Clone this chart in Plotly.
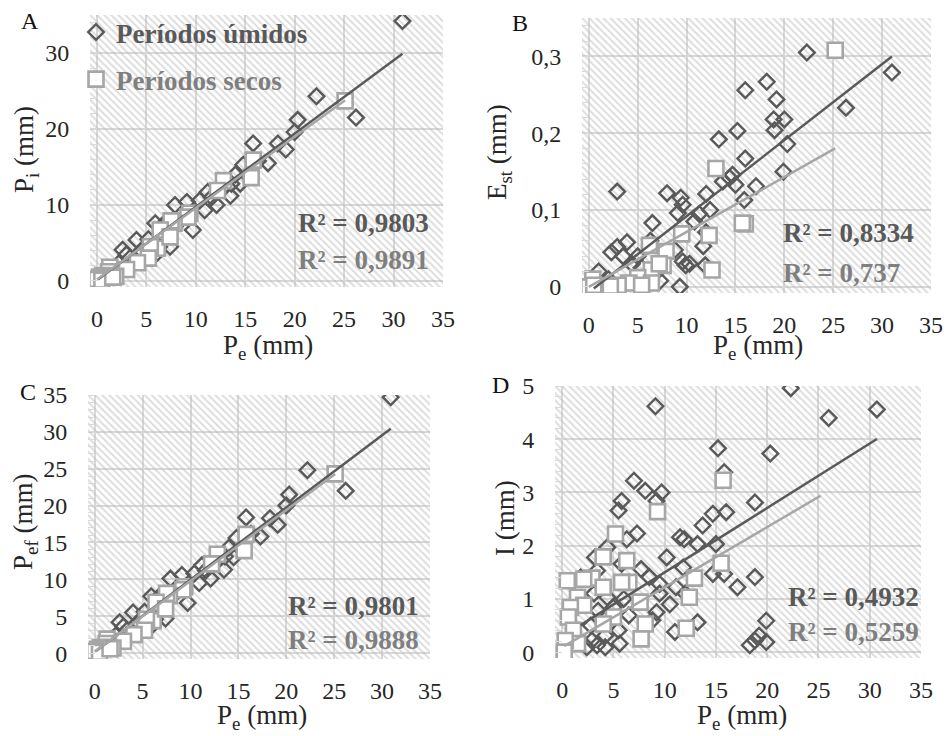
import plotly.graph_objects as go

# ---------------- data ----------------
# Panel A: Pi vs Pe
a_umid_x = [30.9, 26.2, 22.2, 20.3, 20.0, 19.1, 18.3, 17.3, 15.8, 16.3, 14.8, 14.5, 14.0, 13.5, 12.1, 11.2,
            10.9, 10.4, 9.7, 9.1, 7.9, 7.4, 7.0, 6.6, 5.9, 6.1, 5.2, 4.0, 2.6, 3.0, 2.2, 1.2, 0.4, 0.1,
            12.8, 11.6, 8.5, 13.6, 6.3, 4.5]
a_umid_y = [34.2, 21.5, 24.3, 21.2, 19.6, 17.3, 18.1, 15.5, 18.1, 15.8, 15.3, 12.8, 14.0, 11.2, 10.0, 11.7,
            9.3, 10.6, 6.7, 10.4, 10.0, 4.5, 7.6, 7.3, 7.6, 3.7, 5.5, 5.4, 4.1, 3.5, 2.3, 1.0, 0.0, 0.0,
            12.2, 11.0, 8.0, 12.8, 4.5, 4.0]
a_seco_x = [25.1, 15.8, 15.6, 12.8, 12.2, 9.4, 9.2, 7.8, 7.5, 6.4, 6.1, 5.4, 5.2, 4.1, 3.0, 1.9, 1.3, 1.2,
            0.6, 0.3, 0.0, 0.5, 7.4, 1.6]
a_seco_y = [23.7, 15.9, 13.6, 13.2, 11.9, 8.9, 8.4, 7.6, 7.9, 6.7, 4.3, 4.5, 3.0, 2.4, 1.5, 0.6, 1.8, 1.2,
            0.7, 0.5, 0.2, 0.1, 5.8, 0.5]

# Panel B: Est vs Pe
b_umid_x = [22.3, 31.0, 26.3, 18.2, 16.0, 19.2, 18.9, 20.0, 19.0, 15.2, 13.3, 20.3, 16.0, 19.9, 17.1, 14.7,
            14.4, 15.0, 13.7, 15.9, 2.9, 8.0, 9.4, 12.0, 9.1, 12.4, 11.3, 9.6, 6.5, 12.0, 11.7, 3.9, 2.9,
            2.3, 3.5, 9.9, 10.3, 9.6, 11.9, 9.3, 1.0, 5.4, 7.3, 5.0, 8.8, 10.8, 4.4, 6.3, 2.0, 0.5, 7.0]
b_umid_y = [0.305, 0.279, 0.233, 0.267, 0.256, 0.244, 0.218, 0.218, 0.204, 0.203, 0.192, 0.186, 0.167, 0.150,
            0.131, 0.146, 0.142, 0.133, 0.137, 0.113, 0.124, 0.122, 0.116, 0.121, 0.096, 0.100, 0.095, 0.107,
            0.083, 0.071, 0.053, 0.058, 0.052, 0.045, 0.040, 0.028, 0.030, 0.033, 0.028, 0.000, 0.020, 0.025,
            0.008, 0.040, 0.048, 0.085, 0.030, 0.060, 0.010, 0.005, 0.020]
b_seco_x = [25.2, 13.0, 16.0, 15.7, 9.5, 12.3, 12.6, 6.2, 7.9, 7.6, 6.4, 5.0, 4.1, 3.0, 1.6, 0.4, 0.0, 0.5,
            6.4, 5.4, 7.2, 2.2]
b_seco_y = [0.308, 0.154, 0.082, 0.083, 0.069, 0.067, 0.022, 0.054, 0.046, 0.028, 0.022, 0.012, 0.005, 0.002,
            0.000, 0.010, 0.000, 0.002, 0.005, 0.002, 0.030, 0.001]

# Panel C: Pef vs Pe (same events as panel A)
c_umid_x = a_umid_x
c_umid_y = [34.7, 22.0, 24.8, 21.5, 20.0, 17.4, 18.3, 15.8, 18.4, 16.2, 15.6, 13.0, 14.3, 11.3, 10.1, 11.9,
            9.5, 10.8, 6.8, 10.6, 10.1, 4.7, 7.8, 7.5, 7.7, 3.9, 5.6, 5.5, 4.2, 3.6, 2.4, 1.1, 0.1, 0.0,
            12.5, 11.2, 8.2, 13.1, 4.6, 4.2]
c_seco_x = a_seco_x
c_seco_y = [24.3, 16.1, 13.9, 13.4, 12.1, 9.0, 8.6, 7.8, 8.1, 6.9, 4.4, 4.6, 3.1, 2.5, 1.6, 0.7, 1.9, 1.3,
            0.8, 0.5, 0.2, 0.1, 6.0, 0.6]

# Panel D: I vs Pe (the dry event at Pe 25.2 lies above the 5 mm axis limit)
d_umid_x = [22.3, 30.7, 26.0, 9.1, 15.2, 20.3, 15.8, 7.0, 8.1, 9.7, 5.8, 5.5, 9.2, 18.8, 14.7, 16.0, 13.7,
            7.3, 11.5, 11.9, 13.2, 15.0, 6.3, 10.2, 4.4, 3.2, 5.8, 7.7, 11.8, 14.7, 15.8, 18.8, 8.5, 9.5,
            11.1, 17.1, 10.5, 9.5, 4.4, 3.1, 9.2, 6.5, 3.5, 5.0, 13.2, 19.9, 11.0, 19.2, 18.8, 19.9, 18.3,
            5.5, 5.6, 4.2, 4.2, 2.9, 3.4, 2.4, 3.4, 1.8, 8.8, 12.0, 6.0, 2.8]
d_umid_y = [4.96, 4.56, 4.40, 4.62, 3.83, 3.73, 3.38, 3.22, 3.03, 3.00, 2.84, 2.66, 2.84, 2.81, 2.60, 2.63,
            2.38, 2.23, 2.16, 2.12, 2.03, 2.03, 2.12, 1.78, 1.97, 1.78, 1.66, 1.56, 1.59, 1.47, 1.47, 1.41,
            1.41, 1.28, 1.22, 1.22, 0.90, 1.10, 1.03, 1.10, 0.75, 0.69, 0.78, 0.84, 0.56, 0.59, 0.38, 0.31,
            0.22, 0.19, 0.13, 0.41, 0.16, 0.31, 0.09, 0.22, 0.13, 0.09, 1.53, 1.40, 0.60, 1.10, 1.00, 0.50]
d_seco_x = [25.2, 15.7, 9.3, 5.2, 4.0, 6.3, 15.5, 0.5, 2.9, 2.1, 6.5, 5.8, 12.9, 4.0, 1.5, 12.4, 7.6, 2.1,
            0.8, 0.6, 5.0, 8.1, 12.1, 7.7, 1.1, 1.5, 0.3, 0.2, 4.0]
d_seco_y = [5.40, 3.23, 2.64, 2.22, 1.79, 1.72, 1.67, 1.34, 1.39, 1.37, 1.31, 1.31, 1.39, 1.22, 1.03, 1.03,
            0.94, 0.88, 0.84, 0.66, 0.66, 0.53, 0.45, 0.25, 0.41, 0.16, 0.22, 0.00, 0.53]

# linear trend lines (slope, intercept) and R² labels
trend_umid = {"A": (0.964, 0.10), "B": (0.0099, -0.007), "C": (0.980, 0.15), "D": (0.121, 0.29)}
trend_seco = {"A": (0.940, 0.20), "B": (0.00715, 0.0), "C": (0.960, 0.20), "D": (0.113, 0.09)}
r2_umid = {"A": "R² = 0,9803", "B": "R² = 0,8334", "C": "R² = 0,9801", "D": "R² = 0,4932"}
r2_seco = {"A": "R² = 0,9891", "B": "R² = 0,737", "C": "R² = 0,9888", "D": "R² = 0,5259"}

x_ticks = [0, 5, 10, 15, 20, 25, 30, 35]
y_ticks = {"A": [0, 10, 20, 30, 35], "B": [0, 0.1, 0.2, 0.3, 0.35],
           "C": [0, 5, 10, 15, 20, 25, 30, 35], "D": [0, 1, 2, 3, 4, 5]}
y_ticktext = {"A": ["0", "10", "20", "30", ""], "B": ["0", "0,1", "0,2", "0,3", ""],
              "C": ["0", "5", "10", "15", "20", "25", "30", "35"], "D": ["0", "1", "2", "3", "4", "5"]}
y_titles = {"A": "P<sub>i</sub> (mm)", "B": "E<sub>st</sub> (mm)", "C": "P<sub>ef</sub> (mm)", "D": "I (mm)"}
x_title = "P<sub>e</sub> (mm)"
legend_names = ["Períodos úmidos", "Períodos secos"]

# ---------------- styling ----------------
FONT = "Liberation Serif"
C_UMID = "#595959"
C_SECO = "#a6a6a6"
C_SECO_TXT = "#7f7f7f"
GRID = "#d9d9d9"
TXT = "#262626"
W, H = 948, 736


def px(v):
    return v / W


def py(v):
    return 1 - v / H


panels = {
    "A": dict(data=(a_umid_x, a_umid_y, a_seco_x, a_seco_y), xr=[-0.7, 35], yr=[-0.8, 35], minor=2,
              box=(90, 443, 15, 287)),
    "B": dict(data=(b_umid_x, b_umid_y, b_seco_x, b_seco_y), xr=[-0.7, 35], yr=[-0.008, 0.35], minor=0.02,
              box=(582, 931, 18, 293)),
    "C": dict(data=(c_umid_x, c_umid_y, c_seco_x, c_seco_y), xr=[-0.7, 35], yr=[-0.8, 35], minor=1,
              box=(88, 430, 395, 659)),
    "D": dict(data=(d_umid_x, d_umid_y, d_seco_x, d_seco_y), xr=[-0.7, 35], yr=[-0.11, 5], minor=0.2,
              box=(555, 921, 386, 658)),
}

fig = go.Figure()
annotations = []

for i, (key, p) in enumerate(panels.items()):
    n = "" if i == 0 else str(i + 1)
    xref, yref = "x" + n, "y" + n
    ux, uy, sx, sy = p["data"]
    x0, x1 = p["xr"]
    y0, y1 = p["yr"]
    first = i == 0

    # hatched plot background
    fig.add_trace(go.Scatter(
        x=[x0, x1, x1, x0, x0], y=[y0, y0, y1, y1, y0], mode="none", fill="toself",
        fillcolor="rgba(0,0,0,0)",
        fillpattern=dict(shape="\\", fgcolor="#bababa", bgcolor="rgba(255,255,255,0)", size=5, solidity=0.4),
        hoverinfo="skip", showlegend=False, xaxis=xref, yaxis=yref))

    fig.add_trace(go.Scatter(
        x=ux, y=uy, mode="markers", name="<b>" + legend_names[0] + "</b>",
        marker=dict(symbol="diamond-open", size=12, color=C_UMID, line=dict(width=2.4, color=C_UMID)),
        showlegend=first, legendgroup="u", xaxis=xref, yaxis=yref))
    fig.add_trace(go.Scatter(
        x=sx, y=sy, mode="markers",
        name="<b><span style='color:%s'>%s</span></b>" % (C_SECO_TXT, legend_names[1]),
        marker=dict(symbol="square", size=15, color="white", line=dict(width=2.6, color=C_SECO)),
        showlegend=first, legendgroup="s", xaxis=xref, yaxis=yref))

    for xs, (m, b), col in ((ux, trend_umid[key], C_UMID), (sx, trend_seco[key], C_SECO)):
        lx = [min(xs), max(xs)]
        fig.add_trace(go.Scatter(x=lx, y=[b + m * v for v in lx], mode="lines",
                                 line=dict(color=col, width=2.5), hoverinfo="skip",
                                 showlegend=False, xaxis=xref, yaxis=yref))

    l, r, t, btm = p["box"]
    fig.layout["xaxis" + n] = dict(
        domain=[px(l), px(r)], range=p["xr"], anchor=yref, tickvals=x_ticks,
        showgrid=True, gridcolor=GRID, gridwidth=1.6, zeroline=False, showline=False,
        ticks="outside", ticklen=10, tickcolor="rgba(0,0,0,0)", automargin=False,
        tickfont=dict(family=FONT, size=24, color=TXT), fixedrange=True)
    fig.layout["yaxis" + n] = dict(
        domain=[py(btm), py(t)], range=p["yr"], anchor=xref, tickvals=y_ticks[key],
        ticktext=y_ticktext[key], showgrid=True, gridcolor=GRID, gridwidth=1.6, zeroline=False,
        showline=False, ticks="outside", ticklen=15, tickcolor="rgba(0,0,0,0)", automargin=False,
        tickfont=dict(family=FONT, size=24, color=TXT), fixedrange=True,
        minor=dict(dtick=p["minor"], ticks="inside", ticklen=7, tickcolor=GRID, tickwidth=1.4,
                   showgrid=False))


# annotations: panel letters, axis titles, R²
def ann(text, x, y, size, color, xanchor="center", angle=0):
    return dict(text=text, x=px(x), y=py(y), xref="paper", yref="paper", showarrow=False,
                xanchor=xanchor, yanchor="middle", textangle=angle,
                font=dict(family=FONT, size=size, color=color))


letters = {"A": (30, 21), "B": (520, 23), "C": (28, 392), "D": (500, 385)}
for k, (x, y) in letters.items():
    annotations.append(ann(k, x, y, 24, "#111111"))

ytitle_pos = {"A": (26, 150), "B": (499, 152), "C": (25, 522), "D": (505, 518)}
for k, (x, y) in ytitle_pos.items():
    annotations.append(ann(y_titles[k], x, y, 27, TXT, angle=-90))

xtitle_pos = [(268, 347), (758, 347), (262, 717), (742, 717)]
for x, y in xtitle_pos:
    annotations.append(ann(x_title, x, y, 27, TXT))

r2_pos = {"A": (296, 223, 260), "B": (781, 233, 273), "C": (286, 606, 640), "D": (786, 597, 632)}
for k, (x, yu, ys) in r2_pos.items():
    annotations.append(ann("<b>" + r2_umid[k] + "</b>", x, yu, 27, C_UMID, xanchor="left"))
    annotations.append(ann("<b>" + r2_seco[k] + "</b>", x, ys, 27, C_SECO_TXT, xanchor="left"))

fig.update_layout(
    width=W, height=H, margin=dict(l=0, r=0, t=0, b=0, autoexpand=False),
    paper_bgcolor="white", plot_bgcolor="white",
    annotations=annotations,
    legend=dict(x=px(76), y=py(8), xanchor="left", yanchor="top", bgcolor="rgba(0,0,0,0)",
                font=dict(family=FONT, size=27, color=C_UMID), traceorder="grouped",
                tracegroupgap=9, itemsizing="trace"),
)

fig.write_html("out.html", post_script="document.body.style.margin='0';")
